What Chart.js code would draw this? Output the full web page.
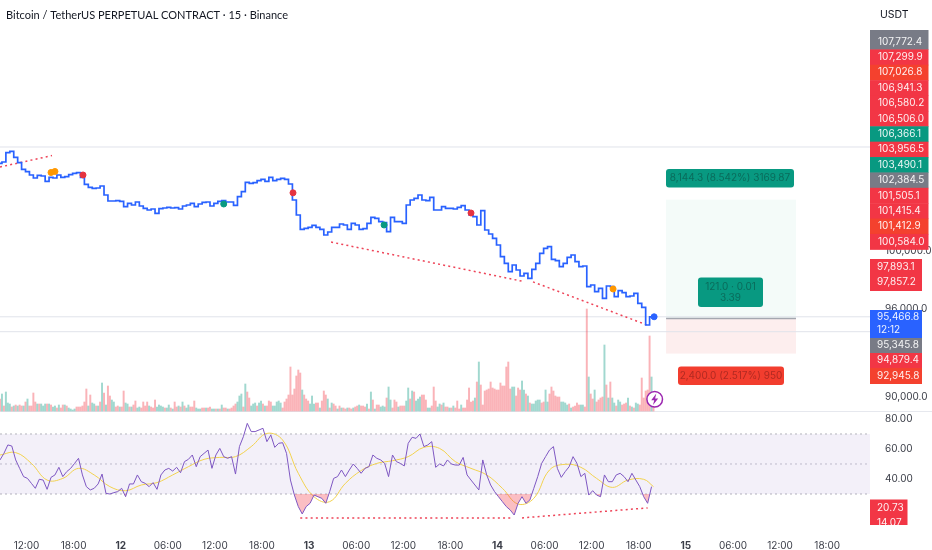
<!DOCTYPE html>
<html><head><meta charset="utf-8">
<style>html,body{margin:0;padding:0;background:#fff}canvas{display:block}</style>
<script src="https://cdn.jsdelivr.net/npm/chart.js@4"></script>
</head><body><canvas id="c" width="932" height="550"></canvas>
<script>
const title = "Bitcoin / TetherUS PERPETUAL CONTRACT · 15 · Binance";
const currency = "USDT";
const priceEvery30m = [105977,106068,106707,106799,106388,106023,105566,105406,105178,104972,105155,105109,104744,105018,104972,105178,105018,105064,105201,105292,105338,105018,104539,104333,104265,104288,104425,103808,103397,103397,103420,103374,103009,103237,103123,103329,103055,102895,102781,102849,102552,102872,102918,102963,102918,102941,102849,103055,103123,103237,103009,103192,103306,103329,103055,103237,103374,103420,103329,103329,103100,103694,104036,104676,104607,104653,104790,104881,104744,105018,104790,104881,104950,104881,104561,103466,102438,101457,101525,101593,101730,101593,101457,101069,101274,
101593,101593,101822,101753,101456,101867,101753,101456,101502,101867,102278,102210,101981,101913,101296,102278,101981,101981,101867,103123,103465,103579,103808,103465,103420,103648,102780,102780,103009,102895,102895,102849,102963,103077,102780,102438,102324,101753,102735,101411,101137,100840,100383,99584,99128,98557,99013,98671,98260,98443,98100,98717,99128,99813,100155,100269,99402,99310,98899,99128,99539,99699,99241,98899,98945,97530,97644,97187,97415,96730,97575,97530,96845,97256,97119,96845,96891,97073,96388,96114,94904,95467];
const rsiEvery30m = [52.7,57.1,62.7,62.0,52.7,47.1,41.6,40.4,37.1,33.8,39.8,39.3,33.1,41.1,42.7,47.8,41.6,44.9,47.1,50.4,53.8,42.7,34.9,32.7,33.8,36.7,43.3,30.4,30.0,30.9,31.6,33.8,28.2,36.7,36.7,42.7,38.2,37.1,34.9,37.6,33.1,42.7,46.0,47.1,45.3,47.8,44.2,51.6,53.1,56.0,48.2,54.9,57.1,59.3,47.1,56.0,60.4,54.9,53.8,54.9,43.3,61.6,68.2,77.1,71.6,71.6,72.7,73.8,64.9,69.3,61.1,63.8,64.2,57.1,39.3,29.3,21.6,16.7,21.6,23.8,29.3,28.2,27.1,23.8,31.6,
40.4,41.6,46.0,41.6,46.0,50.0,47.1,43.8,47.1,48.2,56.0,53.8,52.7,50.4,41.6,56.0,51.6,50.4,48.7,63.8,67.8,67.1,70.0,61.6,62.7,64.9,47.8,50.0,48.7,52.7,50.0,49.3,49.3,54.4,42.7,39.3,36.0,32.7,52.7,42.7,36.0,31.6,28.2,24.9,21.6,19.3,16.0,23.8,28.2,23.8,26.0,33.8,41.6,50.4,54.9,59.3,61.6,47.1,41.1,44.9,48.2,54.9,50.4,41.6,43.8,29.3,32.2,29.3,28.2,42.7,38.2,38.2,42.7,43.8,41.6,38.2,43.8,39.3,34.9,28.2,23.8,34.9];
const rsiMaEvery2h = [56.0,57.6,50.4,39.3,40.4,47.1,42.7,34.9,32.2,36.0,37.6,42.7,48.2,53.1,54.4,54.9,61.6,70.4,66.0,43.8,28.2,24.9,37.1,45.6,50.4,52.2,54.9,61.1,60.4,51.6,47.1,42.7,33.8,23.3,27.1,46.0,49.8,47.8,40.4,34.4,39.3,39.8,34.9];
const volume = [12,17,5,19,8,7,4,5,6,5,6,5,5,9,12,5,5,18,9,7,7,7,5,7,7,7,6,4,5,3,6,3,6,6,5,3,2,1,2,4,4,4,5,9,22,5,16,8,7,5,5,9,28,18,6,25,15,11,9,4,5,4,4,20,8,7,4,4,6,10,3,4,3,9,5,9,5,4,3,11,4,6,5,4,
3,3,6,3,2,9,4,5,4,9,5,3,6,4,4,10,3,2,2,3,3,3,3,4,2,2,2,2,2,6,3,3,2,2,3,5,7,9,15,17,4,27,19,13,5,7,8,5,8,10,7,5,5,10,9,5,5,9,10,8,3,9,12,16,44,16,22,35,41,38,21,16,12,10,7,15,7,8,8,3,10,20,16,12,
3,8,7,5,2,5,3,3,2,3,3,2,3,4,5,6,5,5,4,7,2,19,11,2,6,6,4,5,4,13,24,11,3,11,9,4,5,5,5,10,23,12,20,19,10,12,14,16,16,11,3,3,5,24,10,4,7,6,8,4,4,3,3,5,3,10,2,6,3,3,11,23,9,10,13,29,49,26,6,20,21,22,29,23,
22,21,21,28,25,25,44,49,22,24,24,15,23,21,30,21,17,15,8,7,7,10,11,11,8,9,21,9,17,24,20,15,14,14,9,9,8,6,7,3,4,5,8,6,6,6,4,102,34,17,12,21,9,11,13,14,66,26,13,29,13,8,5,11,9,6,7,8,13,5,4,3,8,7,6,33,13,20,21,75,34,9];
const volumeDir = "rgrgggrgrg"+"rrgrgrrrrg"+"rgggrgrggr"+"grrgrggggr"+"rrrrrgrggr"+"grgrgrrggr"+"rgrrggrgrr"+"ggrrrrgrrr"+"gggg"
 + "rggrgrrgrg"+"rggrrrgggr"+"rgrrggrgrg"+"rrgrrrrggg"+"rgrrgggrgg"+"rgrrrggggg"+"rrrrrrrrrr"+"grrrgggrrg"+"rrrg"
 + "rgrrgrgrrg"+"rrgrrgrrrg"+"rgrgrrgggr"+"ggrrrgrrrg"+"grgrgggrrr"+"ggrrrggrgr"+"rgrgrrrgrr"+"rrrrgrgrrr"+"rrrr"
 + "rrrrrrrrrg"+"grrrggrgrg"+"ggggrrggrr"+"rrrrggggrg"+"rrrrggrrgr"+"rgrrrrgrgr"+"ggrggrrrgr"+"grggrrrrrr"+"gr";
const xTickBars = [13.5,37.5,61.5,85.5,109.5,133.5,157.5,181.5,205.5,229.5,253.5,277.5,301.5,325.5,349.5,373.5,397.5,421.5];
const xTickLabels = ["12:00","18:00","12","06:00","12:00","18:00","13","06:00","12:00","18:00","14","06:00","12:00","18:00","15","06:00","12:00","18:00"];
const priceTicks = [90000,96000,100000];
const rsiTicks = [80,60,40];
const rsiBands = [70,50,30];
const hLinePrices = [107096,95466.8,94445];
const trendUpper = [[0,105726],[26.5,106506.0]];
const trendLowerA = [[168.7,100584.0],[266.5,97893.1]];
const trendLowerB = [[271.6,97857.2],[330.2,94879.4]];
const trendRsiA = [[153,14.07],[261,14.07]];
const trendRsiB = [[266,14.07],[330,20.73]];
const redMarks = [[42.3,105178],[149.3,103956.5],[240,102575]];
const orangeMarks = [[26,105349],[28,105420],[312.4,97370]];
const greenMarks = [[114,103191],[195.7,101753]];
const lastMark = [[333.3,95466.8]];
const riskEntry = 95345.8, riskTarget = 103490.1, riskStop = 92945.8;
const riskBars = [339.4,405.6];
const topTags = ["107,772.4","107,299.9","107,026.8","106,941.3","106,580.2","106,506.0","106,366.1","103,956.5","103,490.1","102,384.5","101,505.1","101,415.4","101,412.9","100,584.0"];
const topColors = ["#787b86","#f23645","#f4412e","#f23645","#f23645","#f23645","#089981","#f23645","#089981","#787b86","#f23645","#f23645","#f4412e","#f23645"];
const midTags = ["97,893.1","97,857.2"];
const lowTags = ["95,466.8","12:12","95,345.8","94,879.4","92,945.8"];
const rsiTags = ["20.73","14.07"];
const rewardLabel = "8,144.3 (8.542%) 3169.87";
const riskLabel = "2,400.0 (2.517%) 950";
const statLabels = ["121.0 · 0.01","3.39"];

const BARS_MAX = 870/1.9625, FONT = "Inter, sans-serif", UI = 'Lato, sans-serif';
const every = (arr,n,last) => arr.map((y,i)=>({x:last===undefined?i*n:Math.min(i*n,last),y}));
const xy = arr => arr.map(p=>({x:p[0],y:p[1]}));
const flat = (y,yAxisID,color,dash) => ({type:'line',data:[{x:0,y},{x:BARS_MAX,y}],yAxisID,borderColor:color,borderWidth:1,borderDash:dash||[],pointRadius:0,order:9});
const trend = (pts,yAxisID) => ({type:'line',data:xy(pts),yAxisID,borderColor:'#ee4458',borderWidth:1.5,borderDash:[2,3.2],pointRadius:0,order:4});
const marks = (pts,color) => ({type:'line',data:xy(pts),yAxisID:'y',showLine:false,pointRadius:3,pointBackgroundColor:color,pointBorderColor:color,pointBorderWidth:1,order:1});

const overlay = {
 id:'overlay',
 beforeDatasetsDraw(c){
  const g=c.ctx,{x,y}=c.scales,l=x.getPixelForValue(riskBars[0]),r=x.getPixelForValue(riskBars[1]);
  const e=y.getPixelForValue(riskEntry),t=y.getPixelForValue(riskTarget),s=y.getPixelForValue(riskStop);
  g.save();
  g.fillStyle='#f4fbf9';g.fillRect(l,t,r-l,e-t);
  g.fillStyle='#fdeeee';g.fillRect(l,e,r-l,s-e);
  g.strokeStyle='#e6e8ee';g.lineWidth=1;g.beginPath();g.moveTo(0,411.5);g.lineTo(932,411.5);g.stroke();
  g.restore();
 },
 afterDraw(c){
  const g=c.ctx,{x,y}=c.scales,l=x.getPixelForValue(riskBars[0]),r=x.getPixelForValue(riskBars[1]);
  g.save();
  g.strokeStyle='#a4a7b0';g.lineWidth=1.5;g.beginPath();const e=y.getPixelForValue(riskEntry);g.moveTo(l,e);g.lineTo(r,e);g.stroke();
  const pill=(px,py,w,h,fill,col,lines)=>{
   g.fillStyle=fill;g.beginPath();g.roundRect(px,py,w,h,3);g.fill();
   g.fillStyle=col;g.font='10px '+FONT;g.textAlign='center';g.textBaseline='middle';
   lines.forEach((t,i)=>g.fillText(t,px+w/2,py+h/2+(i-(lines.length-1)/2)*11.5));
  };
  pill(666,169,128,18.5,'#089981','#0a6b5b',[rewardLabel]);
  pill(698,277.5,65,29.5,'#089981','#0a6b5b',statLabels);
  pill(678,366.5,106,18.5,'#f23d2e','#b02a22',[riskLabel]);
  g.font='10px '+FONT;g.textAlign='left';g.textBaseline='middle';
  const rowH=15.38;
  topTags.forEach((t,i)=>{const cy=41.7+i*rowH,top=i?cy-rowH/2:30;g.fillStyle=topColors[i];g.fillRect(870,top,58.5,cy+rowH/2-top+0.5);});
  g.fillStyle='#f23645';g.fillRect(870,259,52,32);
  g.fillStyle='#2962ff';g.fillRect(870,310,52,28);
  g.fillStyle='#787b86';g.fillRect(870,338,52,15);
  g.fillStyle='#f23645';g.fillRect(870,353,52,15);
  g.fillStyle='#f4412e';g.fillRect(870,368,52,16);
  g.fillStyle='rgba(255,255,255,.92)';
  topTags.forEach((t,i)=>g.fillText(t,878,41.7+i*rowH));
  midTags.forEach((t,i)=>g.fillText(t,877,266.5+i*15.7));
  [316.5,329.5,345,360,376].forEach((cy,i)=>g.fillText(lowTags[i],877,cy));
  g.fillStyle='#f23645';g.fillRect(870,499.5,37.5,25.5);
  g.save();g.beginPath();g.rect(870,499.5,37.5,25.5);g.clip();
  g.fillStyle='rgba(255,255,255,.92)';rsiTags.forEach((t,i)=>g.fillText(t,877,507.7+i*15.4));
  g.restore();
  g.fillStyle='#131722';g.font='11px '+UI;g.textAlign='left';g.fillText(title,6,15);
  g.font='10.5px '+FONT;g.fillText(currency,880,15);
  g.fillStyle='#fff';g.strokeStyle='#9c27b0';g.lineWidth=1.5;g.beginPath();g.arc(654.7,399.3,7.8,0,7);g.fill();g.stroke();
  g.fillStyle='#9c27b0';g.beginPath();g.moveTo(656.3,393.6);g.lineTo(651.2,400.2);g.lineTo(654.2,400.2);g.lineTo(653,405);g.lineTo(658.2,398.4);g.lineTo(655.1,398.4);g.closePath();g.fill();
  g.restore();
 }
};

new Chart(document.getElementById('c'),{
 data:{datasets:[
  {type:'line',data:every(priceEvery30m,2),yAxisID:'y',stepped:'middle',borderColor:'#2962ff',borderWidth:1.7,pointRadius:0,order:2},
  marks(redMarks,'#e53340'),marks(orangeMarks,'#ff9800'),marks(greenMarks,'#089981'),marks(lastMark,'#2962ff'),
  trend(trendUpper,'y'),trend(trendLowerA,'y'),trend(trendLowerB,'y'),trend(trendRsiA,'y2'),trend(trendRsiB,'y2'),
  ...hLinePrices.map(p=>flat(p,'y','#e0e3eb')),
  {type:'bar',data:every(volume,1),yAxisID:'v',backgroundColor:[...volumeDir].map(d=>d==='g'?'rgba(8,153,129,.38)':'rgba(242,54,69,.38)'),barThickness:1.3,order:8},
  {...flat(rsiBands[0],'y2','#b4b4bc',[2,3]),fill:'+1',backgroundColor:'rgba(126,87,194,.09)'},
  flat(rsiBands[2],'y2','#b4b4bc',[2,3]),
  flat(rsiBands[1],'y2','#c4c4cc',[2,3]),
  {type:'line',data:every(rsiEvery30m,2),yAxisID:'y2',borderColor:'#7e57c2',borderWidth:1,pointRadius:0,order:3,fill:{target:{value:30},above:'transparent',below:'rgba(242,54,69,.32)'}},
  {type:'line',data:every(rsiMaEvery2h,8,333),yAxisID:'y2',borderColor:'#f2d24e',borderWidth:1,pointRadius:0,tension:.4,order:3}
 ]},
 options:{
  responsive:false,animation:false,
  layout:{padding:0,autoPadding:false},
  plugins:{legend:{display:false},tooltip:{enabled:false}},
  scales:{
   x:{type:'linear',offset:false,min:0,max:BARS_MAX,position:'bottom',grid:{display:false,offset:false},border:{display:false},
      afterBuildTicks:a=>{a.ticks=xTickBars.map(value=>({value}));},
      afterFit:a=>{a.height=24;a.paddingLeft=0;a.paddingRight=0;},
      ticks:{autoSkip:false,maxRotation:0,padding:6,color:'#3b3e48',
        callback:(v)=>xTickLabels[xTickBars.indexOf(v)],
        font:ctx=>({family:FONT,size:10,weight:(ctx.tick&&/^\d\d$/.test(xTickLabels[xTickBars.indexOf(ctx.tick.value)]))?'bold':'normal'})}},
   y:{type:'linear',axis:'y',position:'right',stack:'p',stackWeight:411,weight:1,min:89014,max:117163,grid:{display:false},border:{display:false},
      afterBuildTicks:a=>{a.ticks=priceTicks.map(value=>({value}));},
      afterFit:a=>{a.width=62;a.paddingTop=0;a.paddingBottom=0;},
      ticks:{padding:7,color:'#3b3e48',font:{family:FONT,size:10},callback:v=>v.toLocaleString('en-US',{minimumFractionDigits:1})}},
   y2:{type:'linear',axis:'y',position:'right',stack:'p',stackWeight:115,weight:2,min:8.67,max:85.33,grid:{display:false},border:{display:false},
      afterBuildTicks:a=>{a.ticks=rsiTicks.map(value=>({value}));},
      afterFit:a=>{a.width=62;a.paddingTop=0;a.paddingBottom=0;},
      ticks:{padding:7,color:'#3b3e48',font:{family:FONT,size:10},callback:v=>v.toFixed(2)}},
   v:{type:'linear',axis:'y',position:'left',display:false,min:-115,max:411}
  }
 },
 plugins:[overlay]
});
</script></body></html>
